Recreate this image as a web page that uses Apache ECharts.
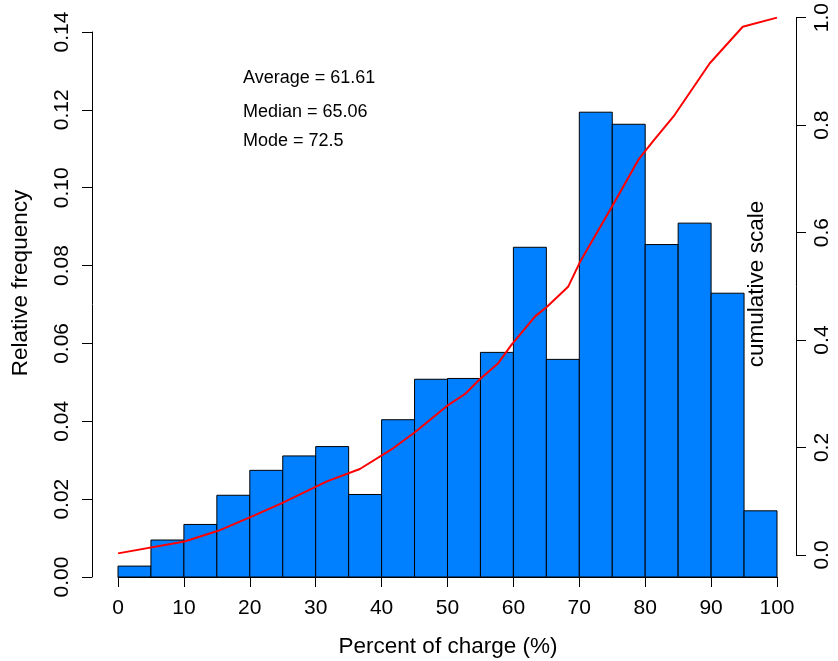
<!DOCTYPE html>
<html>
<head>
<meta charset="utf-8">
<script src="https://cdn.jsdelivr.net/npm/echarts@6/dist/echarts.min.js"></script>
<style>html,body{margin:0;padding:0;background:#fff}#c{width:838px;height:661px}</style>
</head>
<body>
<div id="c"></div>
<script>
// ---- data ----
const binEdges = [0,5,10,15,20,25,30,35,40,45,50,55,60,65,70,75,80,85,90,95,100];
const relFreq = [0.0028,0.0095,0.0135,0.0210,0.0274,0.0311,0.0335,0.0212,0.0404,0.0508,
                 0.0510,0.0577,0.0847,0.0559,0.1194,0.1163,0.0854,0.0909,0.0729,0.0170];
const cumX = [0,10.1,15.2,20.0,24.8,30.2,31.7,36.7,41.8,45.1,50.1,52.7,54.9,57.7,59.7,63.3,65.1,68.3,70.1,74.9,79.0,81.2,84.3,89.8,94.8,100];
const cumY = [0.003,0.025,0.045,0.070,0.096,0.128,0.137,0.160,0.199,0.229,0.279,0.300,0.327,0.357,0.391,0.444,0.462,0.499,0.545,0.647,0.736,0.770,0.816,0.915,0.983,1.0];
const xTicks = [0,10,20,30,40,50,60,70,80,90,100];
const leftTicks = [0,0.02,0.04,0.06,0.08,0.10,0.12,0.14];
const rightTicks = [0,0.2,0.4,0.6,0.8,1.0];
const statLines = ['Average = 61.61','Median = 65.06','Mode = 72.5'];
const xTitle = 'Percent of charge (%)';
const yTitle = 'Relative frequency';
const y2Title = 'cumulative scale';

const FONT = "'Liberation Sans', Arial, Helvetica, sans-serif";
const bins = relFreq.map((v,i)=>[binEdges[i], binEdges[i+1], v]);
const chart = echarts.init(document.getElementById('c'), null, {renderer:'canvas'});
const axisCommon = {
  axisLine:{show:true, onZero:false, lineStyle:{color:'#000', width:1}},
  axisTick:{show:true, inside:false, length:10, lineStyle:{color:'#000', width:1}},
  splitLine:{show:false},
};
chart.setOption({
  animation:false,
  backgroundColor:'#fff',
  grid:[
    {left:118, right:61, top:32, bottom:84},
    {left:118, right:61, top:14, bottom:106}
  ],
  xAxis:[
    Object.assign({gridIndex:0, type:'value', min:xTicks[0], max:xTicks[xTicks.length-1], interval:10,
      axisLabel:{fontFamily:FONT, fontSize:21, color:'#000', margin:21}}, axisCommon),
    {gridIndex:1, type:'value', min:0, max:100, show:false}
  ],
  yAxis:[
    Object.assign({gridIndex:0, type:'value', position:'left', offset:26, min:leftTicks[0], max:leftTicks[leftTicks.length-1], interval:0.02,
      axisLabel:{fontFamily:FONT, fontSize:21, color:'#000', rotate:90, margin:19, formatter:v=>v.toFixed(2)}}, axisCommon),
    Object.assign({gridIndex:1, type:'value', position:'right', offset:19, min:rightTicks[0], max:rightTicks[rightTicks.length-1], interval:0.2,
      axisLabel:{fontFamily:FONT, fontSize:21, color:'#000', rotate:90, margin:16, formatter:v=>v.toFixed(1)}}, axisCommon)
  ],
  series:[
    {
      type:'custom', xAxisIndex:0, yAxisIndex:0, data:bins, z:2,
      renderItem:function(params, api){
        const p0 = api.coord([api.value(0), api.value(2)]);
        const p1 = api.coord([api.value(1), 0]);
        return {type:'rect', shape:{x:p0[0], y:p0[1], width:p1[0]-p0[0], height:p1[1]-p0[1]},
          style:{fill:'#0080FF', stroke:'#000', lineWidth:1}};
      }
    },
    {
      type:'line', xAxisIndex:1, yAxisIndex:1, z:5,
      data:cumX.map((x,i)=>[x, cumY[i]]),
      showSymbol:false, symbol:'none',
      lineStyle:{color:'#FF0000', width:2}
    }
  ],
  graphic:[
    {type:'text', left:243, top:69, style:{text:statLines[0], font:'18px '+FONT, fill:'#000'}},
    {type:'text', left:243, top:103, style:{text:statLines[1], font:'18px '+FONT, fill:'#000'}},
    {type:'text', left:243, top:132, style:{text:statLines[2], font:'18px '+FONT, fill:'#000'}},
    {type:'text', x:448, y:647, style:{text:xTitle, font:'22.5px '+FONT, fill:'#000', align:'center', verticalAlign:'middle'}},
    {type:'text', x:21, y:283, rotation:Math.PI/2, style:{text:yTitle, font:'22.5px '+FONT, fill:'#000', align:'center', verticalAlign:'middle'}},
    {type:'text', x:757, y:284, rotation:Math.PI/2, style:{text:y2Title, font:'22.5px '+FONT, fill:'#000', align:'center', verticalAlign:'middle'}}
  ]
});
</script>
</body>
</html>
